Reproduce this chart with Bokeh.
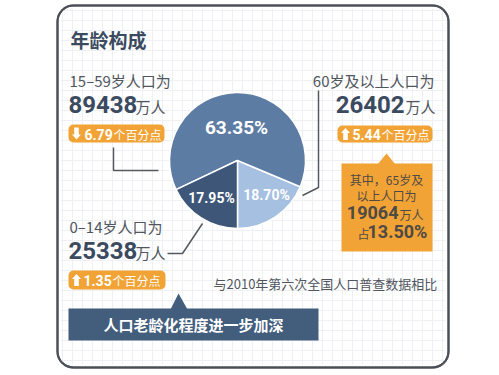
from bokeh.plotting import figure
from bokeh.models import Range1d
from bokeh.core.properties import value
from bokeh.embed import file_html
from bokeh.resources import INLINE
import math

# ---- data ----
categories = ["15–59岁", "60岁及以上", "0–14岁"]
shares = [63.35, 18.70, 17.95]
populations = [89438, 26402, 25338]
changes = [-6.79, 5.44, 1.35]
sub_label = "65岁及以上"
sub_population = 19064
sub_share = 13.50
slice_colors = ["#5d7ca4", "#a6c0e2", "#3e5678"]

W, H = 499, 375
CJK = "Noto Sans CJK SC"
NUM = "Roboto"
ORANGE = "#f2a336"
DARK = "#3b4a5f"
GRAY = "#50565e"

p = figure(width=W, height=H, x_range=Range1d(0, W), y_range=Range1d(H, 0),
           x_axis_type=None, y_axis_type=None, output_backend="svg",
           toolbar_location=None, min_border=0, outline_line_color=None,
           background_fill_color="white", border_fill_color="white")
p.xgrid.visible = False
p.ygrid.visible = False


def T(x, y, txt, size, color, font=CJK, bold=False, align="left", baseline="middle"):
    p.text(x=[x], y=[y], text=[txt], text_font=value(font), text_font_size=f"{size}px",
           text_color=color, text_font_style="bold" if bold else "normal",
           text_align=align, text_baseline=baseline)


# frame
p.quad(left=[57], right=[448], top=[5], bottom=[367], fill_color="white",
       line_color="#4a4f58", line_width=2, border_radius=16)
xs, ys = [], []
for gx in range(62, 446, 10):
    xs.append([gx, gx]); ys.append([8, 364])
for gy in range(10, 366, 10):
    xs.append([60, 445]); ys.append([gy, gy])
p.multi_line(xs=xs, ys=ys, line_color="#eef0f3", line_width=1)
p.quad(left=[57], right=[448], top=[5], bottom=[367], fill_color=None,
       line_color="#4a4f58", line_width=2, border_radius=16)

# ---- pie ----
cx, cy, r = 237, 160, 68
order = [1, 0, 2]
start = -90.0
starts, ends, cols = [], [], []
for i in order:
    span = shares[i] / 100 * 360
    starts.append(math.radians(start))
    ends.append(math.radians(start + span))
    cols.append(slice_colors[i])
    start += span
p.wedge(x=[cx] * 3, y=[cy] * 3, radius=r,
        start_angle=starts, end_angle=ends,
        fill_color=cols, line_color="white", line_width=1.5)

T(236, 127, f"{shares[0]:.2f}%", 19, "white", NUM, True, "center")
T(266, 194, f"{shares[1]:.2f}%", 14, "white", NUM, True, "center")
T(211, 197, f"{shares[2]:.2f}%", 14, "white", NUM, True, "center")

# ---- title ----
T(70, 39, "年龄构成", 19, DARK, CJK, True)


def arrow(x0, ytop, up=True):
    c = x0 + 4
    if up:
        xs_ = [c, c + 4.5, c + 2.3, c + 2.3, c - 2.3, c - 2.3, c - 4.5]
        ys_ = [ytop, ytop + 5, ytop + 5, ytop + 12, ytop + 12, ytop + 5, ytop + 5]
    else:
        xs_ = [c, c + 4.5, c + 2.3, c + 2.3, c - 2.3, c - 2.3, c - 4.5]
        ys_ = [ytop + 12, ytop + 7, ytop + 7, ytop, ytop, ytop + 7, ytop + 7]
    p.patch(x=xs_, y=ys_, fill_color="white", line_color=None)


def badge(l, r_, t, b, chg, num_x, unit_x):
    p.quad(left=[l], right=[r_], top=[t], bottom=[b], fill_color=ORANGE,
           line_color=None, border_radius=5)
    ym = (t + b) / 2
    arrow(l + 4, ym - 6, chg > 0)
    T(num_x, ym + 0.5, f"{abs(chg):.2f}", 14, "white", NUM, True)
    T(unit_x, ym + 0.5, "个百分点", 12, "white", CJK)


# 15-59 block
T(69, 80, f"{categories[0]}人口为", 15, GRAY)
T(68, 104, f"{populations[0]}", 24, DARK, NUM, True)
T(135, 106, "万人", 15, GRAY)
badge(68, 164, 124, 142, changes[0], 84, 113)
p.line(x=[113, 113, 158], y=[147, 170, 170], line_color="#555a60", line_width=1.5)

# 60+ block
T(434, 80, f"{categories[1]}人口为", 15, GRAY, align="right")
T(404, 104, f"{populations[1]}", 24, DARK, NUM, True, "right")
T(405, 106, "万人", 15, GRAY)
badge(337, 432, 125, 142, changes[1], 352, 381)
p.line(x=[318, 318, 302], y=[90, 187, 195], line_color="#555a60", line_width=1.5)

# callout 65+
p.patch(x=[377, 386, 395], y=[164, 153, 164], fill_color=ORANGE, line_color=None)
p.quad(left=[341], right=[432], top=[163], bottom=[251], fill_color=ORANGE, line_color=None)
CALL = "#4e4a44"
T(386, 179, f"其中，{sub_label[:3]}及", 12, CALL, align="center")
T(386, 195, "以上人口为", 12, CALL, align="center")
T(398, 212, f"{sub_population}", 18, CALL, NUM, True, "right")
T(399, 214, "万人", 12, CALL)
T(357, 233, "占", 12, CALL)
T(367, 231, f"{sub_share:.2f}%", 18, CALL, NUM, True)

# 0-14 block
T(69, 226, f"{categories[2]}人口为", 15, GRAY)
T(68, 250, f"{populations[2]}", 24, DARK, NUM, True)
T(135, 252, "万人", 15, GRAY)
badge(68, 165, 270, 289, changes[2], 83, 112)
p.line(x=[167, 182, 202], y=[253, 253, 223], line_color="#555a60", line_width=1.5)

# note
T(213, 283, "与2010年第六次全国人口普查数据相比", 13, GRAY)

# banner
p.patch(x=[170, 178, 187], y=[309, 293, 309], fill_color="#435d7d", line_color=None)
p.quad(left=[68], right=[318], top=[308], bottom=[340], fill_color="#435d7d", line_color=None)
T(193, 324, "人口老龄化程度进一步加深", 15, "white", CJK, True, "center")

open("out.html", "w").write(file_html(p, INLINE))
